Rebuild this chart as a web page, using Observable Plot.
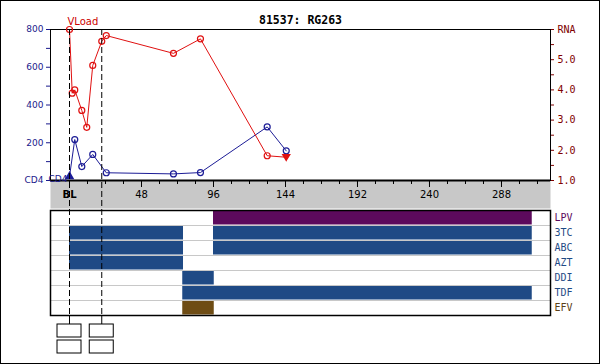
<!DOCTYPE html>
<html><head><meta charset="utf-8">
<script src="https://cdn.jsdelivr.net/npm/d3@7"></script>
<script src="https://cdn.jsdelivr.net/npm/@observablehq/plot@0.6"></script>
<style>
body{margin:0;background:#fff}
#chart{position:relative;width:600px;height:364px;overflow:hidden;background:#fff}
#chart svg{position:absolute;left:0;top:0}
#border{position:absolute;left:0;top:0;width:600px;height:364px;box-sizing:border-box;border:1px solid #000;pointer-events:none}
</style></head><body><div id="chart"></div>
<script>
// ---------------- data ----------------
const title = "81537: RG263";
const cd4Weeks  = [0, 3.5, 8.2, 15.5, 24.5, 69.3, 87.3, 131.8, 144.5];
const cd4Values = [21, 217, 74, 138, 41, 35, 42, 284, 157];
const cd4Flag   = [true, false, false, false, false, false, false, false, false];
const rnaWeeks  = [0, 1.8, 3.5, 8.2, 11.5, 15.5, 21.5, 24.5, 69.3, 87.3, 131.8, 144.5];
const rnaValues = [6.0, 3.89, 4.0, 3.32, 2.76, 4.81, 5.61, 5.8, 5.21, 5.69, 1.82, 1.77];
const rnaBelow  = [false, false, false, false, false, false, false, false, false, false, false, true];
const drugs = ["LPV", "3TC", "ABC", "AZT", "DDI", "TDF", "EFV"];
const regDrug  = ["LPV", "3TC", "3TC", "ABC", "ABC", "AZT", "DDI", "TDF", "EFV"];
const regStart = [96, 0, 96, 0, 96, 0, 75.5, 75.5, 75.5];
const regEnd   = [308.5, 76, 308.5, 76, 308.5, 76, 96.5, 308.5, 96.5];
const genoWeeks = [0, 21.5];
const genoSlots = [1, 2];
const xMajorTicks = [0, 48, 96, 144, 192, 240, 288];
const xMajorLabels = ["BL", "48", "96", "144", "192", "240", "288"];
const xMinorTicks = [0, 12, 24, 36, 48, 60, 72, 84, 96, 108, 120, 132, 144, 156, 168, 180, 192, 204, 216, 228, 240, 252, 264, 276, 288, 300, 312];
const cd4Ticks = [0, 100, 200, 300, 400, 500, 600, 700, 800];
const rnaTicks = [1, 1.5, 2, 2.5, 3, 3.5, 4, 4.5, 5, 5.5, 6];

// ---------------- styles ----------------
const W = 600, H = 364, ML = 50, MR = 50;
const xDomain = [-12.67, 320.67];
const BLUE = "#1c1c96", RED = "#e01010";
const drugColor = d => d === "LPV" ? "#5c0a5c" : d === "EFV" ? "#6e4c14" : "#1f4a85";
const drugLabelColor = d => d === "LPV" ? "#5c0a5c" : d === "EFV" ? "#5c4016" : "#1f4a85";
const baseStyle = "background:transparent;position:absolute;left:0;top:0;overflow:visible;";

const cd4 = cd4Weeks.map((w, i) => ({week: w, value: cd4Values[i], flag: cd4Flag[i]}));
const rna = rnaWeeks.map((w, i) => ({week: w, value: rnaValues[i], below: rnaBelow[i]}));
const regimens = regDrug.map((d, i) => ({drug: d, start: regStart[i], end: regEnd[i]}));
const boxes = genoWeeks.flatMap(w => genoSlots.map(s => ({week: w, slot: s})));
const majors = xMajorTicks.map((t, i) => ({week: t, label: xMajorLabels[i]}));

const triangleDown = {
  draw(ctx, size) {
    const r = Math.sqrt(size / 1.3);
    ctx.moveTo(0, r * 0.8);
    ctx.lineTo(r * 0.9, -r * 0.7);
    ctx.lineTo(-r * 0.9, -r * 0.7);
    ctx.closePath();
  }
};

function layer(opts) {
  return Plot.plot(Object.assign({
    width: W, height: H, marginLeft: ML, marginRight: MR,
    x: {domain: xDomain, axis: null}
  }, opts));
}

const chart = document.getElementById("chart");

// Treatment panel
chart.append(layer({
  marginTop: 210, marginBottom: 49,
  style: "position:absolute;left:0;top:0;overflow:visible;background:#fff;font-family:'DejaVu Sans Mono';font-size:10px;",
  y: {type: "band", domain: drugs, padding: 0, axis: null},
  color: {type: "identity"},
  marks: [
    Plot.barX(regimens, {x1: "start", x2: "end", y: "drug", fill: d => drugColor(d.drug), insetTop: 0.5, insetBottom: 0.5}),
    Plot.ruleY(drugs.slice(1), {y: d => d, dy: -7.5, stroke: "#c8c8c8"}),
    Plot.frame({stroke: "#000", strokeWidth: 1.5}),
    Plot.text(drugs, {y: d => d, text: d => d, frameAnchor: "right", dx: 4, textAnchor: "start", fill: d => drugLabelColor(d)})
  ]
}));

// Gray week band
chart.append(layer({
  marginTop: 180, marginBottom: 156,
  style: baseStyle + "font-family:'DejaVu Sans';font-size:10px;color:#000;",
  marks: [
    Plot.frame({fill: "#c8c8c8", stroke: "none"}),
    Plot.tickX(xMinorTicks, {x: d => d, insetBottom: 24, stroke: "#000"}),
    Plot.tickX(xMajorTicks, {x: d => d, insetBottom: 21, stroke: "#000"}),
    Plot.text(majors.filter(d => d.week > 0), {x: "week", text: "label", frameAnchor: "middle", fill: "#000"}),
    Plot.text(majors.filter(d => d.week === 0), {x: "week", text: "label", frameAnchor: "middle", fill: "#000", fontWeight: "bold"})
  ]
}));

// CD4 layer (left axis)
chart.append(layer({
  marginTop: 29, marginBottom: 184,
  style: baseStyle + "font-family:'DejaVu Sans';font-size:9px;color:#1a1a8c;",
  y: {domain: [0, 800], ticks: cd4Ticks, label: null, tickSize: 4, tickPadding: 3,
      tickFormat: d => d === 0 ? "CD4" : d % 200 === 0 ? String(d) : ""},
  marks: [
    Plot.frame({stroke: "#000"}),
    Plot.ruleY([0], {stroke: "#000", strokeWidth: 2}),
    Plot.line(cd4, {x: "week", y: "value", stroke: BLUE, strokeWidth: 1}),
    Plot.dot(cd4.filter(d => !d.flag), {x: "week", y: "value", r: 3, stroke: BLUE, fill: "none", strokeWidth: 1.2}),
    Plot.dot(cd4.filter(d => d.flag), {x: "week", y: "value", symbol: "triangle", r: 2.6, fill: BLUE, stroke: BLUE}),
    Plot.text(cd4.slice(0, 1), {x: "week", y: "value", text: () => "CD4", textAnchor: "end", dx: -2, dy: 3, fill: "#1a1a8c"}),
    Plot.text([title], {text: d => d, frameAnchor: "top", lineAnchor: "middle", dy: -9, fill: "#000",
      fontFamily: "DejaVu Sans Mono", fontWeight: "bold", fontSize: 11.5})
  ]
}));

// RNA layer (right axis)
chart.append(layer({
  marginTop: 29, marginBottom: 184,
  style: baseStyle + "font-family:'DejaVu Sans Mono';font-size:10px;color:#800000;",
  y: {domain: [1, 6], axis: "right", ticks: rnaTicks, label: null, tickSize: 3, tickPadding: 4,
      tickFormat: d => d === 6 ? "RNA" : Number.isInteger(d) ? d.toFixed(1) : ""},
  marks: [
    Plot.line(rna, {x: "week", y: "value", stroke: RED, strokeWidth: 1}),
    Plot.dot(rna.filter(d => !d.below), {x: "week", y: "value", r: 3, stroke: RED, fill: "none", strokeWidth: 1.2}),
    Plot.dot(rna.filter(d => d.below), {x: "week", y: "value", symbol: triangleDown, r: 2.4, fill: RED, stroke: RED}),
    Plot.text(rna.slice(0, 1), {x: "week", y: "value", text: () => "VLoad", textAnchor: "start", dx: -2, dy: -8,
      fill: "#cc0000", fontFamily: "DejaVu Sans", fontSize: 10})
  ]
}));

// Dashed genotype lines
chart.append(layer({
  marginTop: 29, marginBottom: 49,
  style: baseStyle,
  marks: [
    Plot.ruleX(genoWeeks, {x: d => d, stroke: "#000", strokeDasharray: "6,3"})
  ]
}));

// Genotype boxes
chart.append(layer({
  marginTop: 324, marginBottom: 11,
  style: baseStyle,
  y: {type: "band", domain: genoSlots, paddingInner: 0.1875, paddingOuter: 0, axis: null},
  marks: [
    Plot.ruleX(genoWeeks, {x: d => d, insetTop: -9, insetBottom: 29, stroke: "#000"}),
    Plot.barX(boxes, {x1: d => d.week - 8, x2: d => d.week + 8, y: "slot", fill: "#fff", stroke: "#000"})
  ]
}));

const border = document.createElement("div");
border.id = "border";
chart.append(border);
</script>
</body></html>
